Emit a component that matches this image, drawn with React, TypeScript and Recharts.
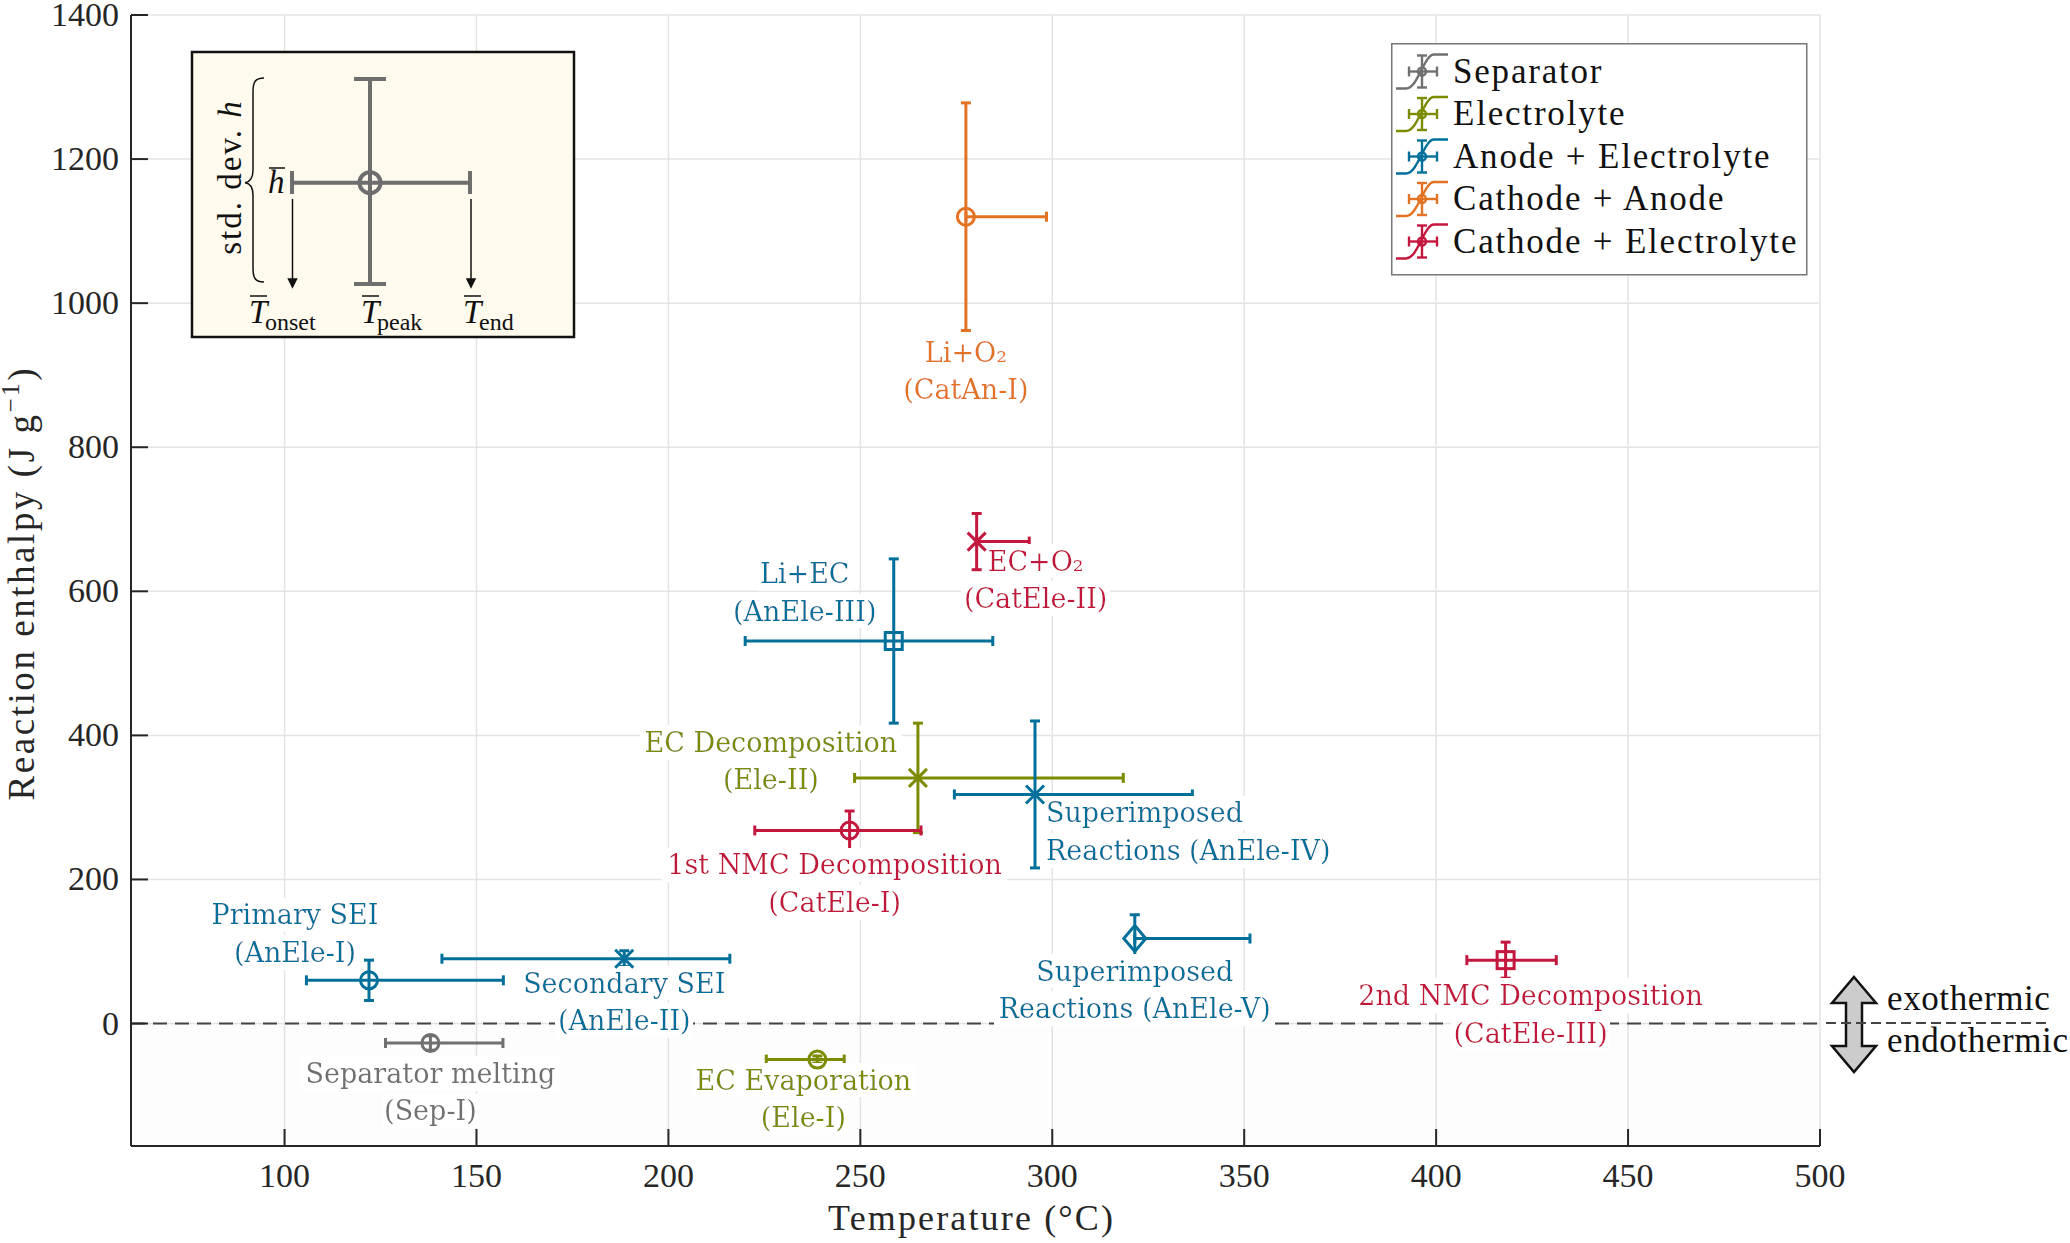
import React from "react";
import {
  ScatterChart,
  Scatter,
  XAxis,
  YAxis,
  CartesianGrid,
  ErrorBar,
  ReferenceLine,
  ReferenceArea,
  Legend,
} from "recharts";

// reaction groups (legend)
const groups = ["Separator", "Electrolyte", "Anode + Electrolyte", "Cathode + Anode", "Cathode + Electrolyte"];
const groupColors = ["#707070", "#7d8b00", "#00709b", "#e37222", "#c3173e"];

// one entry per reaction
const reactionIds = ["Sep-I", "Ele-I", "Ele-II", "AnEle-I", "AnEle-II", "AnEle-III", "AnEle-IV", "AnEle-V", "CatAn-I", "CatEle-I", "CatEle-II", "CatEle-III"];
const reactionGroup = [0, 1, 1, 2, 2, 2, 2, 2, 3, 4, 4, 4];
const onsetTemp = [126.3, 225.5, 248.5, 105.7, 141, 220, 274.5, 321.5, 277.5, 222.5, 280.3, 408];
const peakTemp = [138, 238.8, 265, 122, 188.5, 258.7, 295.5, 321.5, 277.5, 247.2, 280.3, 418.1];
const endTemp = [156.9, 245.8, 318.5, 157, 216, 284.5, 336.5, 351.5, 298.5, 265.8, 294, 431.3];
const enthalpy = [-27, -50, 341, 60, 90, 531, 318, 118, 1120, 268, 669, 88];
const enthalpyStd = [10, 5, 76, 28, 11, 114, 102, 33, 158, 27, 39, 25];
const markerShape = ["circle", "circle", "x", "circle", "x", "square", "x", "diamond", "circle", "circle", "x", "square"];
const labelLines = [
  ["Separator melting", "(Sep-I)"],
  ["EC Evaporation", "(Ele-I)"],
  ["EC Decomposition", "(Ele-II)"],
  ["Primary SEI", "(AnEle-I)"],
  ["Secondary SEI", "(AnEle-II)"],
  ["Li+EC", "(AnEle-III)"],
  ["Superimposed", "Reactions (AnEle-IV)"],
  ["Superimposed", "Reactions (AnEle-V)"],
  ["Li+O\u2082", "(CatAn-I)"],
  ["1st NMC Decomposition", "(CatEle-I)"],
  ["EC+O\u2082", "(CatEle-II)"],
  ["2nd NMC Decomposition", "(CatEle-III)"],
];

const xTicks = [100, 150, 200, 250, 300, 350, 400, 450, 500];
const yTicks = [0, 200, 400, 600, 800, 1000, 1200, 1400];

// label placement next to each marker (px): anchor, dx, dy of first baseline
const labelPlacement: Record<string, [string, number, number]> = {
  "Sep-I": ["middle", 0, 40],
  "Ele-I": ["middle", -14, 30],
  "Ele-II": ["middle", -147, -26],
  "AnEle-I": ["middle", -74, -56],
  "AnEle-II": ["middle", 0, 34],
  "AnEle-III": ["middle", -89, -58],
  "AnEle-IV": ["start", 11, 28],
  "AnEle-V": ["middle", 0, 42],
  "CatAn-I": ["middle", 0, 145],
  "CatEle-I": ["middle", -15, 44],
  "CatEle-II": ["middle", 59, 29],
  "CatEle-III": ["middle", 25, 45],
};

const AXIS = "#262626";
const SERIF = "'Liberation Serif', 'Times New Roman', serif";
const LABEL_FONT = "'DejaVu Serif', serif";

const points = reactionIds.map((id, i) => ({
  id,
  group: reactionGroup[i],
  color: groupColors[reactionGroup[i]],
  x: peakTemp[i],
  y: enthalpy[i],
  xErr: [peakTemp[i] - onsetTemp[i], endTemp[i] - peakTemp[i]],
  yErr: enthalpyStd[i],
  marker: markerShape[i],
  lines: labelLines[i],
}));

function Marker(props: any) {
  const { cx, cy, payload } = props;
  const c = payload.color;
  const common = { fill: "none", stroke: c, strokeWidth: 3 };
  if (payload.marker === "square") return <rect x={cx - 8.5} y={cy - 8.5} width={17} height={17} {...common} />;
  if (payload.marker === "diamond")
    return <path d={`M${cx},${cy - 13}L${cx + 11},${cy}L${cx},${cy + 13}L${cx - 11},${cy}Z`} {...common} />;
  if (payload.marker === "x")
    return <path d={`M${cx - 9},${cy - 9}L${cx + 9},${cy + 9}M${cx - 9},${cy + 9}L${cx + 9},${cy - 9}`} {...common} />;
  return <circle cx={cx} cy={cy} r={8.5} {...common} />;
}

// each line is its own text with a white background box
function ReactionLabel(props: any) {
  const { cx, cy, payload } = props;
  const [anchor, dx, dy] = labelPlacement[payload.id];
  return (
    <g>
      {payload.lines.map((line: string, i: number) => (
        <text
          key={i}
          x={cx + dx}
          y={cy + dy + i * 37.5}
          textAnchor={anchor}
          fill={payload.color}
          fontFamily={LABEL_FONT}
          fontSize={27}
          filter="url(#labelBg)"
        >
          {line}
        </text>
      ))}
    </g>
  );
}

function XTick(props: any) {
  const { x, y, payload } = props;
  return (
    <g>
      <line x1={x} y1={y} x2={x} y2={y - 17} stroke={AXIS} strokeWidth={2} />
      <text x={x} y={y + 41} textAnchor="middle" fontFamily={SERIF} fontSize={34} fill={AXIS}>
        {payload.value}
      </text>
    </g>
  );
}

function YTick(props: any) {
  const { x, y, payload } = props;
  return (
    <g>
      <line x1={x} y1={y} x2={x + 17} y2={y} stroke={AXIS} strokeWidth={2} />
      <text x={x - 12} y={y + 11} textAnchor="end" fontFamily={SERIF} fontSize={34} fill={AXIS}>
        {payload.value}
      </text>
    </g>
  );
}

function XTitle(props: any) {
  const { viewBox } = props;
  return (
    <text
      x={viewBox.x + viewBox.width / 2 - 5}
      y={1230}
      textAnchor="middle"
      fontFamily={SERIF}
      fontSize={36}
      fill={AXIS}
      textLength={285}
    >
      Temperature (°C)
    </text>
  );
}

function YTitle(props: any) {
  const { viewBox } = props;
  const cy = viewBox.y + viewBox.height / 2 + 4;
  return (
    <text
      x={34}
      y={cy}
      transform={`rotate(-90, 34, ${cy})`}
      textAnchor="middle"
      fontFamily={SERIF}
      fontSize={37}
      fill={AXIS}
      textLength={432}
    >
      Reaction enthalpy (J g
      <tspan fontSize={25} dy={-15}>
        −1
      </tspan>
      <tspan dy={15}>)</tspan>
    </text>
  );
}

function LegendIcon({ x, y, color }: { x: number; y: number; color: string }) {
  return (
    <g stroke={color} strokeWidth={2.4} fill="none">
      <path d={`M${x - 26},${y + 17}L${x - 16},${y + 17}C${x - 4},${y + 17} ${x + 2},${y - 17} ${x + 12},${y - 17}L${x + 26},${y - 17}`} />
      <line x1={x} y1={y - 16} x2={x} y2={y + 16} />
      <line x1={x - 5} y1={y - 16} x2={x + 5} y2={y - 16} />
      <line x1={x - 5} y1={y + 16} x2={x + 5} y2={y + 16} />
      <line x1={x - 13} y1={y} x2={x + 15} y2={y} />
      <line x1={x - 13} y1={y - 5} x2={x - 13} y2={y + 5} />
      <line x1={x + 15} y1={y - 5} x2={x + 15} y2={y + 5} />
      <circle cx={x} cy={y} r={4} />
    </g>
  );
}

function LegendBox(props: any) {
  const items = (props.payload || [])
    .filter((p: any) => groups.includes(p.value))
    .sort((a: any, b: any) => groups.indexOf(a.value) - groups.indexOf(b.value));
  return (
    <svg width={417} height={233}>
      <rect x={0.75} y={0.75} width={415} height={231} fill="#fff" stroke="#777" strokeWidth={1.5} />
      {items.map((item: any, i: number) => {
        const cy = 28.5 + i * 42.5;
        const color = groupColors[groups.indexOf(item.value)];
        return (
          <g key={item.value}>
            <LegendIcon x={31} y={cy} color={color} />
            <text x={62} y={cy + 11} fontFamily={SERIF} fontSize={35} letterSpacing={1.8} fill="#111">
              {item.value}
            </text>
          </g>
        );
      })}
    </svg>
  );
}

function Overlay() {
  const gray = "#6e6e6e";
  return (
    <svg width={2070} height={1243} style={{ position: "absolute", left: 0, top: 0, pointerEvents: "none" }}>
      <defs>
        <filter id="labelBg" x="-0.015" y="-0.04" width="1.03" height="1.08">
          <feFlood floodColor="#ffffff" />
          <feComposite in="SourceGraphic" operator="over" />
        </filter>
      </defs>
      {/* inset explaining the error bars */}
      <rect x={192} y={52} width={382} height={285} fill="#fffaee" stroke="#111" strokeWidth={2.5} />
      <g stroke={gray} strokeWidth={4} fill="none">
        <line x1={370} y1={79} x2={370} y2={284} />
        <line x1={354} y1={79} x2={386} y2={79} />
        <line x1={354} y1={284} x2={386} y2={284} />
        <line x1={292} y1={182.7} x2={470} y2={182.7} />
        <line x1={292} y1={171} x2={292} y2={194} />
        <line x1={470} y1={171} x2={470} y2={194} />
        <circle cx={370} cy={182.7} r={10.5} />
      </g>
      <g stroke="#111" strokeWidth={1.5} fill="#111">
        <line x1={292.5} y1={199} x2={292.5} y2={280} />
        <polygon points="288.5,279 296.5,279 292.5,287" />
        <line x1={471} y1={199} x2={471} y2={280} />
        <polygon points="467,279 475,279 471,287" />
      </g>
      <path
        d="M264,78 C255,78 253,82 253,92 L253,170 C253,178 250,182 245,182.7 C250,183.4 253,187 253,195 L253,268 C253,278 255,282 264,282"
        stroke="#111"
        strokeWidth={1.5}
        fill="none"
      />
      <text
        x={241}
        y={177}
        transform="rotate(-90, 241, 177)"
        textAnchor="middle"
        fontFamily={SERIF}
        fontSize={33}
        letterSpacing={2}
        fill="#111"
      >
        std. dev. <tspan fontStyle="italic">h</tspan>
      </text>
      <text x={268} y={193} fontFamily={SERIF} fontSize={33} fontStyle="italic" fill="#111">
        h
      </text>
      <line x1={269} y1={168} x2={285} y2={168} stroke="#111" strokeWidth={1.5} />
      {[
        [249, "onset"],
        [361, "peak"],
        [463, "end"],
      ].map(([tx, sub]) => (
        <g key={sub as string}>
          <line x1={(tx as number) + 1} y1={296} x2={(tx as number) + 18} y2={296} stroke="#111" strokeWidth={1.5} />
          <text x={tx as number} y={323} fontFamily={SERIF} fontSize={33} fontStyle="italic" fill="#111">
            T
          </text>
          <text x={(tx as number) + 16} y={330} fontFamily={SERIF} fontSize={24} fill="#111">
            {sub}
          </text>
        </g>
      ))}
      {/* exothermic / endothermic marker */}
      <polygon
        points="1854,977 1876,1003 1862,1003 1862,1046 1876,1046 1854,1072 1832,1046 1846,1046 1846,1003 1832,1003"
        fill="#cccccc"
        stroke="#111"
        strokeWidth={2.5}
        strokeLinejoin="miter"
      />
      <line x1={1826} y1={1023} x2={2046} y2={1023} stroke="#444" strokeWidth={1.8} strokeDasharray="10 5" />
      <text x={1887} y={1010} fontFamily={SERIF} fontSize={35} letterSpacing={0.6} fill="#111">
        exothermic
      </text>
      <text x={1887} y={1052} fontFamily={SERIF} fontSize={35} letterSpacing={0.6} fill="#111">
        endothermic
      </text>
    </svg>
  );
}

export default function App() {
  return (
    <div style={{ position: "absolute", left: 0, top: 0, width: 2070, height: 1243, background: "#fff" }}>
      <ScatterChart width={2070} height={1243} margin={{ top: 15, right: 250, bottom: 0, left: 0 }}>
        <CartesianGrid stroke="#e4e4e4" strokeWidth={1.5} />
        <ReferenceArea y1={-170} y2={0} fill="#000" fillOpacity={0.008} stroke="none" />
        <XAxis
          type="number"
          dataKey="x"
          domain={[60, 500]}
          ticks={xTicks}
          allowDataOverflow
          height={97}
          tickSize={0}
          tickMargin={0}
          tick={<XTick />}
          axisLine={{ stroke: AXIS, strokeWidth: 2 }}
          label={<XTitle />}
        />
        <YAxis
          type="number"
          dataKey="y"
          domain={[-170, 1400]}
          ticks={yTicks}
          allowDataOverflow
          width={131}
          tickSize={0}
          tickMargin={0}
          tick={<YTick />}
          axisLine={{ stroke: AXIS, strokeWidth: 2 }}
          label={<YTitle />}
        />
        <ReferenceLine y={0} stroke="#444" strokeWidth={2} strokeDasharray="14 8" />
        <Scatter
          name="labels"
          data={points}
          legendType="none"
          shape={ReactionLabel}
          isAnimationActive={false}
        />
        {groups.map((g, gi) => (
          <Scatter
            key={g}
            name={g}
            data={points.filter((p) => p.group === gi)}
            fill={groupColors[gi]}
            shape={Marker}
            isAnimationActive={false}
          >
            <ErrorBar dataKey="xErr" direction="x" width={5} stroke={groupColors[gi]} strokeWidth={3} isAnimationActive={false} />
            <ErrorBar dataKey="yErr" direction="y" width={5} stroke={groupColors[gi]} strokeWidth={3} isAnimationActive={false} />
          </Scatter>
        ))}
        <Legend
          layout="vertical"
          align="center"
          verticalAlign="middle"
          wrapperStyle={{ left: 1391, top: 43, width: 417, height: 233 }}
          content={(props: any) => <LegendBox payload={props.payload} />}
        />
      </ScatterChart>
      <Overlay />
    </div>
  );
}
